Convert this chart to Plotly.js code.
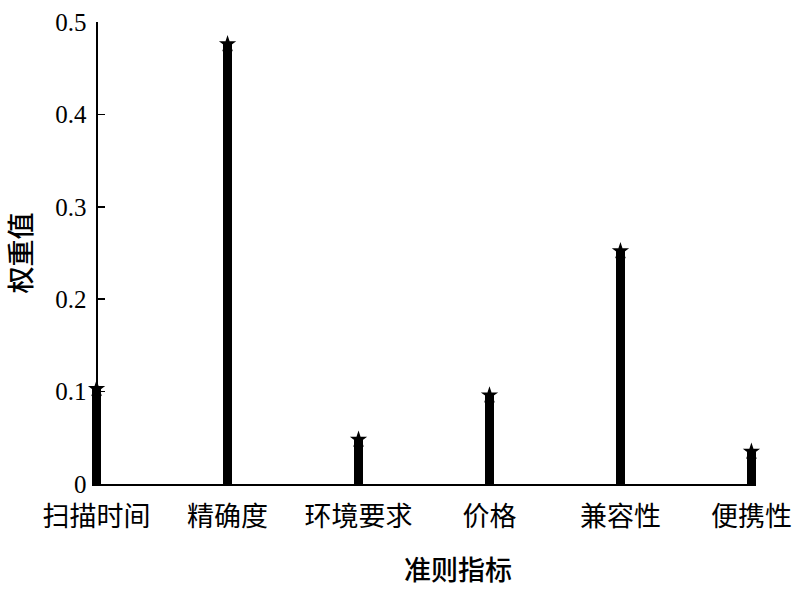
<!DOCTYPE html>
<html>
<head>
<meta charset="utf-8">
<script src="https://cdn.plot.ly/plotly-3.0.1.min.js"></script>
<style>html,body{margin:0;padding:0;background:#fff;}#chart{width:800px;height:591px;}</style>
</head>
<body>
<div id="chart"></div>
<script>
var categories = ["扫描时间", "精确度", "环境要求", "价格", "兼容性", "便携性"];
var weights = [0.103, 0.476, 0.048, 0.096, 0.252, 0.035];
var yTickVals = [0, 0.1, 0.2, 0.3, 0.4, 0.5];
var yTickText = ["0", "0.1", "0.2", "0.3", "0.4", "0.5"];
var xTitle = "准则指标";
var yTitle = "权重值";

var idx = categories.map(function(_, i){ return i; });
var cjk = '"Noto Sans CJK SC", sans-serif';
var serif = '"Liberation Serif", "Times New Roman", serif';

var stems = {
  type: 'bar', x: idx, y: weights, width: 0.066,
  marker: {color: '#000', line: {width: 0}},
  hoverinfo: 'skip', showlegend: false
};
var tops = {
  type: 'scatter', mode: 'markers', x: idx, y: weights,
  marker: {symbol: 'star', size: 13, color: '#000'},
  cliponaxis: false, showlegend: false
};

var left = 92, right = 44;
var plotW = 800 - left - right;
var layout = {
  width: 800, height: 591,
  margin: {l: left, r: right, t: 22, b: 107},
  paper_bgcolor: '#fff', plot_bgcolor: '#fff',
  showlegend: false,
  xaxis: {
    range: [-0.035, 5.035],
    tickvals: idx, ticktext: categories,
    ticks: 'outside', ticklen: 8, tickcolor: 'rgba(0,0,0,0)',
    showgrid: false, zeroline: false,
    showline: true, linecolor: '#000', linewidth: 2,
    tickfont: {family: cjk, size: 27, color: '#000'}
  },
  yaxis: {
    range: [0, 0.5],
    anchor: 'free', position: 4.6 / plotW,
    tickvals: yTickVals, ticktext: yTickText,
    ticks: 'inside', ticklen: 7, tickwidth: 1.5, tickcolor: '#000',
    ticklabelstandoff: 4,
    showgrid: false, zeroline: false,
    showline: true, linecolor: '#000', linewidth: 2,
    tickfont: {family: serif, size: 25, color: '#000'},
    title: {text: yTitle, font: {family: cjk, size: 27, color: '#000', weight: 500}, standoff: 22}
  },
  annotations: [{
    text: xTitle, xref: 'paper', yref: 'paper',
    x: (458 - left) / plotW, y: -(568 - 484) / 462,
    xanchor: 'center', yanchor: 'middle', showarrow: false,
    font: {family: cjk, size: 27, color: '#000', weight: 500}
  }],
  bargap: 0
};
Plotly.newPlot('chart', [stems, tops], layout, {displayModeBar: false, staticPlot: true});
</script>
</body>
</html>
